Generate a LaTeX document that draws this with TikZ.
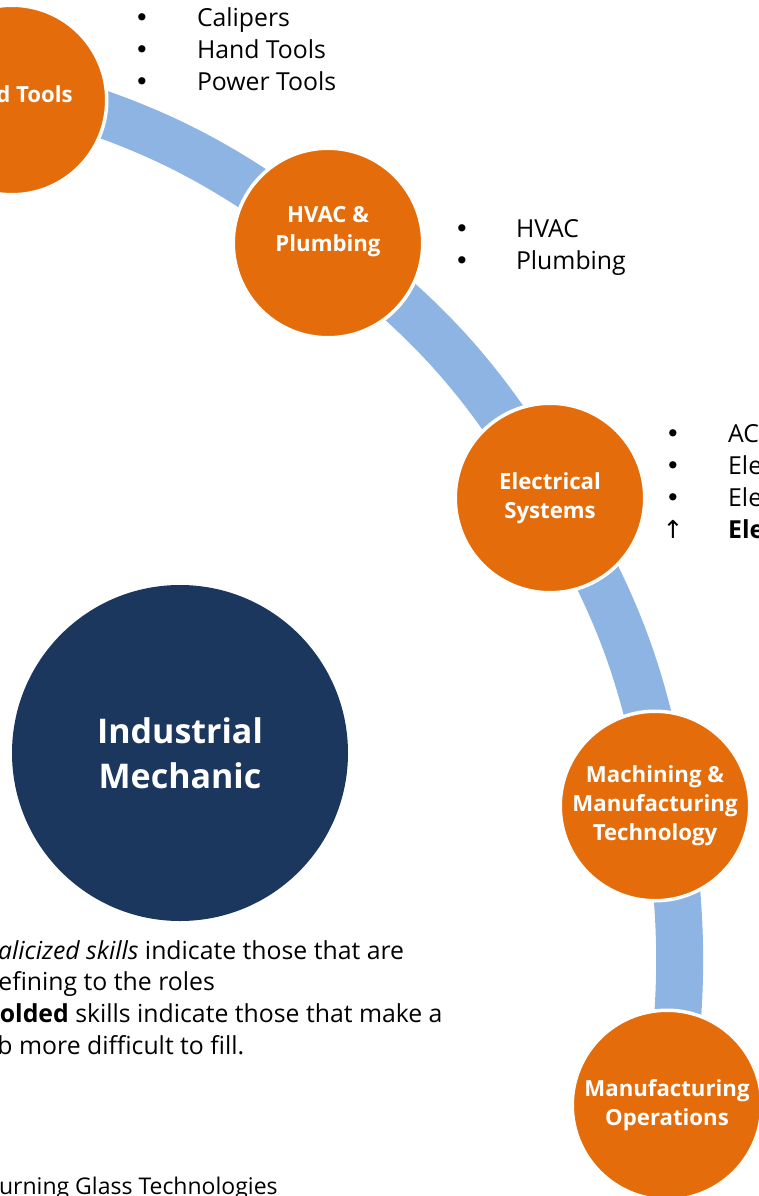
\documentclass[tikz,border=0pt]{standalone}
\usepackage{fontspec}
\setmainfont{Open Sans}
\newfontfamily\symfont{DejaVu Sans}
\definecolor{orng}{HTML}{E46C0A}
\definecolor{bandc}{HTML}{8EB4E3}
\definecolor{navy}{HTML}{1B375E}
\newcommand{\bul}{\makebox[0pt]{\symfont •}}
\begin{document}
\begin{tikzpicture}[x=1pt,y=-1pt,
  orangec/.style={circle,fill=orng,draw=white,line width=3.5pt,minimum size=189.5pt,inner sep=0pt,
    text=white,font=\fontsize{22.2}{29}\selectfont\bfseries,align=center},
  lab/.style={inner sep=0pt,text=white,font=\fontsize{22.2}{29}\selectfont\bfseries,align=center},
  navyc/.style={circle,fill=navy,minimum size=336pt,inner sep=0pt,
    text=white,font=\fontsize{34}{45}\selectfont\bfseries,align=center},
  band/.style={draw=bandc,line width=47pt},
  item/.style={anchor=base west,inner sep=0pt,font=\fontsize{24.8}{30}\selectfont},
  src/.style={anchor=base west,inner sep=0pt,font=\fontsize{23}{28}\selectfont}
  ]
\useasboundingbox (0,0) rectangle (759,1196);
\clip (0,0) rectangle (759,1196);
% band anchor points on the big arc
\coordinate (pA) at (14.2,87.0);
\coordinate (pB) at (324.8,239.8);
\coordinate (pC) at (553.1,496.1);
\coordinate (pD) at (666.2,803.5);
\coordinate (pE) at (668.4,1105.0);
\draw[band] (pA) to[bend left=11.1] (pB) to[bend left=11] (pC) to[bend left=10.5] (pD) to[bend left=8] (pE);
% circles
\node[orangec] (hand) at (12,100) {};
\node[lab] (handlab) at (12,94) {Hand Tools};
\node[orangec] (hvac) at (328,243) {};
\node[lab] (hvaclab) at (328,232) {HVAC \&\\Plumbing};
\node[orangec] (elec) at (550,498) {Electrical\\Systems};
\node[orangec] (mach) at (655,806) {Machining \&\\Manufacturing\\Technology};
\node[orangec] (mfg) at (667,1105) {Manufacturing\\Operations};
\node[navyc] (im) at (180,753) {Industrial\\Mechanic};
% lists
\node[item] (t1) at (141.7,27) {\bul\hspace{55.1pt}Calipers};
\node[item] (t2) at (141.7,59) {\bul\hspace{55.1pt}Hand Tools};
\node[item] (t3) at (141.7,91) {\bul\hspace{55.1pt}Power Tools};
\node[item] (h1) at (461.7,237) {\bul\hspace{54.1pt}HVAC};
\node[item] (h2) at (461.7,269) {\bul\hspace{54.1pt}Plumbing};
\node[item] (e1) at (672.7,442) {\bul\hspace{55.3pt}AC};
\node[item] (e2) at (672.7,474) {\bul\hspace{55.3pt}Ele};
\node[item] (e3) at (672.7,506) {\bul\hspace{55.3pt}Ele};
\node[item] (e4) at (672.7,538) {\makebox[0pt]{\symfont ↑}\hspace{55.3pt}\textbf{Ele}};
% notes
\node[item] (n1) at (-17,959) {\textit{Italicized skills} indicate those that are};
\node[item] (n2) at (-17,990) {defining to the roles};
\node[item] (n3) at (-17,1022) {\textbf{Bolded} skills indicate those that make a};
\node[item] (n4) at (-24,1054) {job more difficult to fill.};
\node[src] (s1) at (-16,1194.5) {Burning Glass Technologies};
\end{tikzpicture}
\end{document}
